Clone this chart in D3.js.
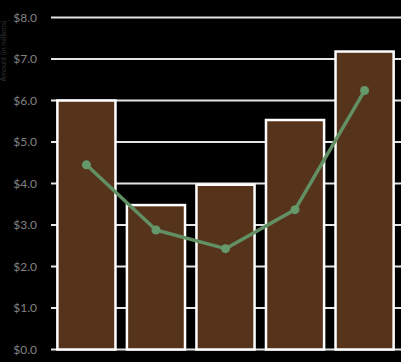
<!DOCTYPE html>
<html><head><meta charset="utf-8">
<script src="https://cdn.jsdelivr.net/npm/d3@7"></script>
<style>html,body{margin:0;padding:0;background:#000;}svg{display:block;}</style>
</head><body>
<svg id="c" width="401" height="362"></svg>
<script>
const categories = ["A", "B", "C", "D", "E"];
const barValues = [6.0, 3.48, 3.97, 5.53, 7.18];
const lineValues = [4.45, 2.88, 2.43, 3.37, 6.24];
const yTicks = [0, 1, 2, 3, 4, 5, 6, 7, 8];
const yTickLabels = ["$0.0", "$1.0", "$2.0", "$3.0", "$4.0", "$5.0", "$6.0", "$7.0", "$8.0"];
const yTitle = "Amount (in millions)";

const svg = d3.select("#c");
const W = 401, H = 362;
svg.append("rect").attr("width", W).attr("height", H).attr("fill", "#000");

const x = d3.scaleBand().domain(categories).range([52, 399]).paddingInner(0.15).paddingOuter(0.07);
const y = d3.scaleLinear().domain([0, 8]).range([349.5, 17.5]);

// gridlines
svg.append("g").selectAll("line").data(yTicks).join("line")
  .attr("x1", 51).attr("x2", W)
  .attr("y1", d => y(d)).attr("y2", d => y(d))
  .attr("stroke", "#e4e4e4").attr("stroke-width", 2);

// tick labels
svg.append("g").selectAll("text").data(yTicks).join("text")
  .attr("x", 37).attr("y", d => y(d))
  .attr("dy", "0.35em").attr("text-anchor", "end")
  .attr("font-family", "Lato, 'Open Sans', sans-serif").attr("font-size", 12)
  .attr("fill", "#838383")
  .text((d, i) => yTickLabels[i]);

// y title (faint, at far left)
svg.append("text")
  .attr("transform", "translate(6,51) rotate(-90)")
  .attr("text-anchor", "middle")
  .attr("font-family", "Lato, sans-serif").attr("font-size", 7)
  .attr("fill", "#303030")
  .text(yTitle);

// bars
svg.append("g").selectAll("rect").data(barValues).join("rect")
  .attr("x", (d, i) => x(categories[i]) + 0.5)
  .attr("width", x.bandwidth() - 1)
  .attr("y", d => y(d))
  .attr("height", d => y(0) - y(d))
  .attr("fill", "#56331b")
  .attr("stroke", "#ffffff").attr("stroke-width", 2.5);

// line
const line = d3.line()
  .x((d, i) => x(categories[i]) + x.bandwidth() / 2)
  .y(d => y(d));
svg.append("path").datum(lineValues)
  .attr("d", line).attr("fill", "none")
  .attr("stroke", "#628f63").attr("stroke-width", 3.5)
  .attr("stroke-linejoin", "round");
svg.append("g").selectAll("circle").data(lineValues).join("circle")
  .attr("cx", (d, i) => x(categories[i]) + x.bandwidth() / 2)
  .attr("cy", d => y(d))
  .attr("r", 4.5)
  .attr("fill", "#65986a");
</script>
</body></html>
